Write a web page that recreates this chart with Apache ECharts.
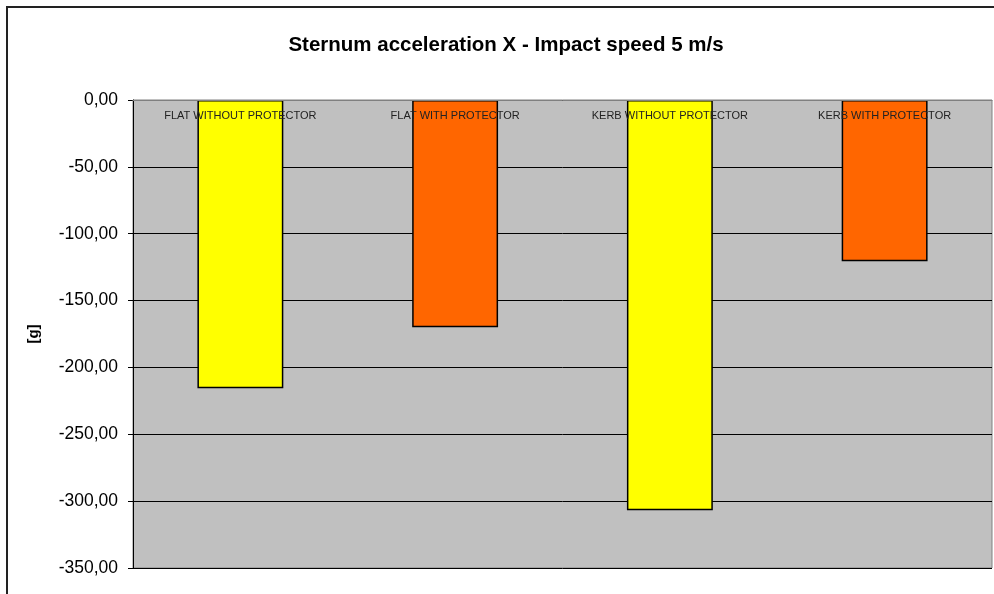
<!DOCTYPE html>
<html>
<head>
<meta charset="utf-8">
<script src="https://cdn.jsdelivr.net/npm/echarts@6/dist/echarts.min.js"></script>
<style>html,body{margin:0;padding:0;background:#fff;}#c{width:994px;height:594px;}</style>
</head>
<body>
<div id="c"></div>
<script>
var titleText = 'Sternum acceleration X - Impact speed 5 m/s';
var categories = ['FLAT WITHOUT PROTECTOR', 'FLAT WITH PROTECTOR', 'KERB WITHOUT PROTECTOR', 'KERB WITH PROTECTOR'];
var values = [-215.6, -170.0, -306.9, -120.5];
var barColors = ['#FFFF00', '#FF6600', '#FFFF00', '#FF6600'];
var yAxisName = '[g]';
var yMin = -350, yMax = 0, yStep = 50;

var chart = echarts.init(document.getElementById('c'));
chart.setOption({
  animation: false,
  backgroundColor: '#fff',
  title: {
    text: titleText,
    left: 501, top: 30, textAlign: 'center',
    textStyle: {fontFamily: 'Liberation Sans, Arial', fontWeight: 'bold', fontSize: 20.5, color: '#000'}
  },
  graphic: [{
    type: 'rect', z: 100, silent: true,
    shape: {x: 7, y: 7, width: 1000, height: 600},
    style: {fill: 'none', stroke: '#222', lineWidth: 2}
  }],
  grid: {left: 133, top: 100, right: 2, bottom: 26, show: true, backgroundColor: '#C0C0C0', borderColor: '#808080', borderWidth: 1},
  xAxis: {
    type: 'category', data: categories, position: 'top', z: 10,
    axisLine: {show: true, lineStyle: {color: '#808080', width: 1}},
    axisTick: {show: false},
    axisLabel: {inside: true, margin: 10, fontFamily: 'Liberation Sans, Arial', fontSize: 11, color: '#222'},
    splitLine: {show: false}
  },
  yAxis: {
    type: 'value', min: yMin, max: yMax, interval: yStep,
    name: yAxisName, nameLocation: 'middle', nameGap: 92, nameRotate: 90,
    nameTextStyle: {fontFamily: 'Liberation Sans, Arial', fontWeight: 'bold', fontSize: 15, color: '#000'},
    axisLine: {show: true, lineStyle: {color: '#000', width: 1}},
    axisTick: {show: true, length: 5, lineStyle: {color: '#000'}},
    axisLabel: {margin: 15, fontFamily: 'Liberation Sans, Arial', fontSize: 17.5, color: '#000',
      formatter: function (v) { return v.toFixed(2).replace('.', ','); }},
    splitLine: {show: true, lineStyle: {color: '#000', width: 1}}
  },
  series: [{
    type: 'bar', barWidth: '40%',
    data: values.map(function (v, i) { return {value: v, itemStyle: {color: barColors[i]}}; }),
    itemStyle: {borderColor: '#000', borderWidth: 1.5}
  }]
});
</script>
</body>
</html>
